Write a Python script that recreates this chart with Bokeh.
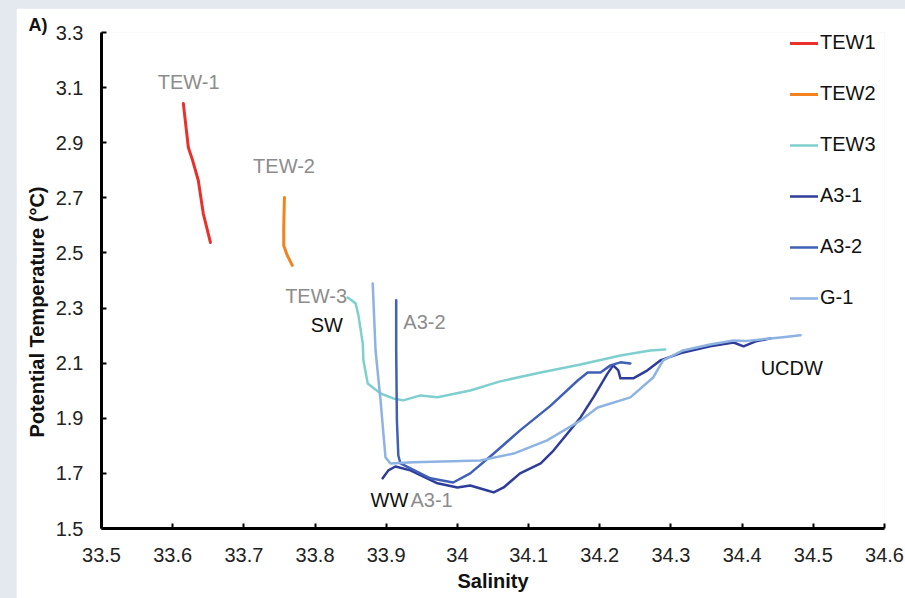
from bokeh.plotting import figure
from bokeh.models import ColumnDataSource, FixedTicker, Legend, LegendItem, Title
from bokeh.layouts import column
from bokeh.core.properties import value
from bokeh.embed import file_html
from bokeh.resources import INLINE

# Potential temperature / salinity profiles
tew1_sal = [33.615, 33.622, 33.628, 33.636, 33.643, 33.653]
tew1_temp = [3.042, 2.883, 2.836, 2.763, 2.643, 2.538]

tew2_sal = [33.757, 33.756, 33.756, 33.761, 33.768]
tew2_temp = [2.701, 2.592, 2.527, 2.491, 2.455]

tew3_sal = [33.846, 33.857, 33.861, 33.867, 33.868, 33.874, 33.892, 33.910, 33.924,
            33.948, 33.972, 34.018, 34.060, 34.117, 34.173, 34.229, 34.271, 34.292]
tew3_temp = [2.338, 2.317, 2.273, 2.172, 2.110, 2.026, 1.990, 1.972, 1.965,
             1.983, 1.976, 2.001, 2.034, 2.066, 2.095, 2.128, 2.146, 2.150]

a31_sal = [33.895, 33.903, 33.913, 33.934, 33.972, 34.000, 34.018, 34.042, 34.051,
           34.065, 34.088, 34.117, 34.135, 34.173, 34.191, 34.211, 34.219, 34.226,
           34.229, 34.247, 34.267, 34.285, 34.317, 34.355, 34.388, 34.402, 34.419, 34.440]
a31_temp = [1.682, 1.711, 1.725, 1.711, 1.664, 1.649, 1.656, 1.638, 1.631,
            1.649, 1.700, 1.736, 1.783, 1.903, 1.976, 2.063, 2.092, 2.074,
            2.045, 2.045, 2.074, 2.110, 2.139, 2.161, 2.175, 2.161, 2.179, 2.190]

a32_sal = [33.914, 33.914, 33.915, 33.917, 33.920, 33.934, 33.962, 33.994, 34.018,
           34.051, 34.088, 34.131, 34.169, 34.183, 34.201, 34.215, 34.229, 34.243]
a32_temp = [2.328, 2.146, 1.892, 1.765, 1.736, 1.718, 1.682, 1.667, 1.700,
            1.772, 1.856, 1.946, 2.037, 2.066, 2.066, 2.092, 2.103, 2.099]

g1_sal = [33.881, 33.885, 33.892, 33.896, 33.899, 33.906, 33.938, 34.032, 34.079,
          34.126, 34.173, 34.197, 34.243, 34.275, 34.289, 34.317, 34.355, 34.388,
          34.404, 34.426, 34.454, 34.482]
g1_temp = [2.389, 2.146, 1.965, 1.845, 1.758, 1.736, 1.740, 1.747, 1.772,
           1.820, 1.892, 1.939, 1.976, 2.048, 2.110, 2.146, 2.168, 2.182,
           2.180, 2.186, 2.193, 2.201]

series_names = ["TEW1", "TEW2", "TEW3", "A3-1", "A3-2", "G-1"]
series_colors = ["#e8312b", "#f5821f", "#7fcfcf", "#2e3d99", "#3f60b6", "#8db3e2"]
series_widths = [3, 3, 2.5, 2.5, 2.5, 2.5]

# Water-mass / station annotations (left edge, vertical centre)
note_text = ["TEW-1", "TEW-2", "TEW-3", "SW", "A3-2", "WW", "A3-1", "UCDW"]
note_sal = [33.579, 33.713, 33.758, 33.794, 33.924, 33.878, 33.934, 34.426]
note_temp = [3.119, 2.814, 2.342, 2.237, 2.248, 1.602, 1.602, 2.084]
note_color = ["#8c8c8c", "#8c8c8c", "#8c8c8c", "#111111", "#8c8c8c", "#111111", "#8c8c8c", "#111111"]

x_ticks = [33.5, 33.6, 33.7, 33.8, 33.9, 34.0, 34.1, 34.2, 34.3, 34.4, 34.5, 34.6]
x_tick_labels = ["33.5", "33.6", "33.7", "33.8", "33.9", "34", "34.1", "34.2", "34.3", "34.4", "34.5", "34.6"]
y_ticks = [1.5, 1.7, 1.9, 2.1, 2.3, 2.5, 2.7, 2.9, 3.1, 3.3]

FONT = "Liberation Sans"

p = figure(width=889, height=590, x_range=(33.5, 34.6), y_range=(1.5, 3.3),
           output_backend="svg", toolbar_location=None,
           min_border_left=85, min_border_right=21, min_border_top=24, min_border_bottom=70)
p.margin = (8, 0, 0, 16)
p.background_fill_color = "white"
p.border_fill_color = "white"
p.outline_line_color = None
p.xgrid.visible = False
p.ygrid.visible = False

# Panel tag
p.title.text = "A)"
p.title.align = "left"
p.title.offset = -73
p.title.standoff = -4
p.title.text_font = FONT
p.title.text_font_size = "18px"
p.title.text_font_style = "bold"
p.title.text_color = "#111111"

profiles = [(tew1_sal, tew1_temp), (tew2_sal, tew2_temp), (tew3_sal, tew3_temp),
            (a31_sal, a31_temp), (a32_sal, a32_temp), (g1_sal, g1_temp)]
items = []
for (xs, ys), name, col, w in zip(profiles, series_names, series_colors, series_widths):
    r = p.line(xs, ys, line_color=col, line_width=w, line_join="round", line_cap="round")
    items.append(LegendItem(label=name, renderers=[r]))

legend = Legend(items=items, location=(689, 219))
legend.padding = 0
legend.margin = 0
legend.spacing = 28
legend.glyph_height = 20
legend.label_height = 20
legend.glyph_width = 28
legend.label_standoff = 2
legend.border_line_color = None
legend.background_fill_alpha = 0
legend.label_text_font = FONT
legend.label_text_font_size = "20px"
legend.label_text_color = "#111111"
p.add_layout(legend)

src = ColumnDataSource(dict(x=note_sal, y=note_temp, t=note_text, c=note_color))
p.text(x="x", y="y", text="t", text_color="c", source=src, text_font=value(FONT),
       text_font_size="20px", text_align="left", text_baseline="middle")

for ax in (p.xaxis[0], p.yaxis[0]):
    ax.axis_line_width = 3
    ax.axis_line_color = "black"
    ax.major_tick_in = 5
    ax.major_tick_out = 0
    ax.major_tick_line_width = 2
    ax.major_tick_line_color = "black"
    ax.minor_tick_line_color = None
    ax.major_label_text_font = FONT
    ax.major_label_text_font_size = "20px"
    ax.major_label_text_color = "#222222"
    ax.axis_label_text_font = FONT
    ax.axis_label_text_font_size = "20px"
    ax.axis_label_text_font_style = "bold"
    ax.axis_label_text_color = "#111111"

p.xaxis.ticker = FixedTicker(ticks=x_ticks)
p.xaxis.major_label_overrides = dict(zip(x_ticks, x_tick_labels))
p.xaxis.axis_label = "Salinity"
p.xaxis.major_label_standoff = 19
p.xaxis.axis_label_standoff = 5

p.yaxis.ticker = FixedTicker(ticks=y_ticks)
p.yaxis.major_label_standoff = 18

# Vertical temperature label, starting a little above the frame bottom
ylab = Title(text="Potential Temperature (°C)", align="left", offset=91, standoff=9,
             text_font=FONT, text_font_size="20px", text_font_style="bold",
             text_color="#111111")
p.add_layout(ylab, "left")

page = column(p, width=905, height=598, styles={"background-color": "#e4e8ef"})

open("out.html", "w").write(file_html(page, INLINE))
